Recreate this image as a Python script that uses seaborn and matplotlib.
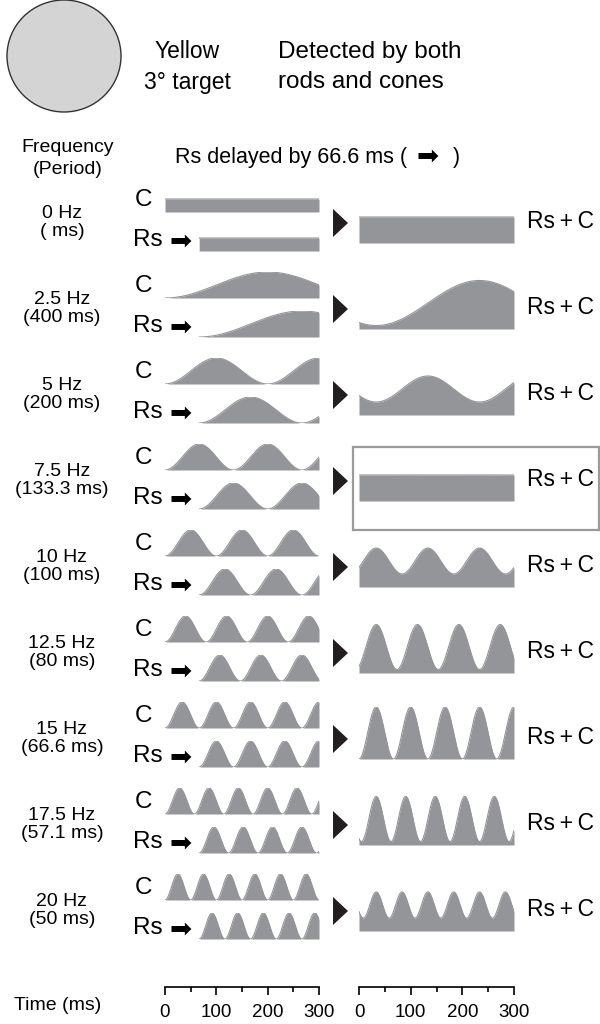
#!/usr/bin/env python3
import numpy as np
import matplotlib
matplotlib.use("Agg")
import matplotlib.pyplot as plt
import matplotlib.patches as mpatches
import matplotlib.transforms as mtransforms
import seaborn as sns

# Flicker frequencies shown, one row each
FREQS_HZ = [0, 2.5, 5, 7.5, 10, 12.5, 15, 17.5, 20]
PERIOD_LABELS = ["( ms)", "(400 ms)", "(200 ms)", "(133.3 ms)", "(100 ms)",
                 "(80 ms)", "(66.6 ms)", "(57.1 ms)", "(50 ms)"]
DELAY_MS = 66.6          # rod signal (Rs) lag behind cone signal (C)
WINDOW_MS = 300
TIME_TICKS = [0, 100, 200, 300]
TIME_MINOR = [50, 150, 250]
NULLED_ROW = 3           # 7.5 Hz: Rs and C cancel

GRAY = "#939598"
INK = "#231f20"

W, H = 600, 1024
PX_PER_UNIT = 13
ROW_STEP = 86


def wave(f, t):
    # mean level 1, full modulation when flickering
    m = 0.0 if f == 0 else 1.0
    return 1 - m * np.cos(2 * np.pi * f * t / 1000.0)


def draw_wave(ax, x, y, ymax):
    ax.fill_between(x, 0, y, color=GRAY, lw=0)
    sns.lineplot(x=x, y=y, ax=ax, color=GRAY, lw=0.8, estimator=None)
    ax.set_xlim(0, WINDOW_MS)
    ax.set_ylim(0, ymax)
    ax.axis("off")


sns.set_theme(style="white")
plt.rcParams["font.family"] = ["Liberation Sans", "DejaVu Sans"]

fig = plt.figure(figsize=(W / 100, H / 100), dpi=100)
# pixel coordinates, y downwards
PX = mtransforms.Affine2D().scale(1 / W, -1 / H).translate(0, 1) + fig.transFigure


def add_ax(x0, x1, base, height):
    return fig.add_axes([x0 / W, 1 - base / H, (x1 - x0) / W, height / H])


def txt(x, y, s, size, ha="left", **kw):
    return fig.text(x, y, s, transform=PX, ha=ha, va="center", fontsize=size,
                    color="black", **kw)


ARROW = "\u27a1"

# header
fig.patches.append(mpatches.Ellipse((64, 56), 114, 112, transform=PX,
                                    facecolor="#d4d4d4", edgecolor="#333333", lw=1))
txt(187, 52, "Yellow", 16.5, ha="center")
txt(187, 82, "3° target", 16.5, ha="center")
txt(278, 52, "Detected by both", 17.5)
txt(278, 82, "rods and cones", 17.5)
txt(68, 148, "Frequency", 14, ha="center")
txt(68, 170, "(Period)", 14, ha="center")

renderer = fig.canvas.get_renderer()
head = txt(175, 157, "Rs delayed by 66.6 ms (", 15.5)
x_end = head.get_window_extent(renderer).x1
txt(x_end + 10, 157, ARROW, 19, family=["DejaVu Sans"])
txt(x_end + 46, 157, ")", 15.5)

t = np.linspace(0, WINDOW_MS, 1501)
t_rs = t[t >= DELAY_MS]

for i, f in enumerate(FREQS_HZ):
    base = 212 + ROW_STEP * i
    c = wave(f, t)
    rs_full = wave(f, t - DELAY_MS)

    ax_c = add_ax(165, 319, base, 2 * PX_PER_UNIT)
    draw_wave(ax_c, t, c, 2)

    ax_r = add_ax(165, 319, base + 39, 2 * PX_PER_UNIT)
    draw_wave(ax_r, t_rs, wave(f, t_rs - DELAY_MS), 2)

    ax_s = add_ax(359, 514, base + 31, 4 * PX_PER_UNIT)
    draw_wave(ax_s, t, c + rs_full, 4)

    txt(62, base + 1, f"{f:g} Hz", 14, ha="center")
    txt(62, base + 20, PERIOD_LABELS[i], 14, ha="center")
    txt(135, base - 12, "C", 17.5)
    txt(133, base + 28, "Rs", 17.5)
    txt(181, base + 30, ARROW, 19, ha="center", family=["DejaVu Sans"])
    txt(527, base + 10, "Rs\u2009+\u2009C", 16.5)

    cy = base + 11
    fig.patches.append(mpatches.Polygon([(333, cy - 14), (348, cy), (333, cy + 14)],
                                        closed=True, transform=PX, facecolor=INK, lw=0))

    if i == NULLED_ROW:
        fig.patches.append(mpatches.Rectangle((353, base - 23), 246, 83, transform=PX,
                                              fill=False, edgecolor="#9a9a9a", lw=1.6))

# time scales
for x0, x1 in [(165, 319), (359, 514)]:
    ax_t = add_ax(x0, x1, 987, 1)
    ax_t.set_xlim(0, WINDOW_MS)
    ax_t.set_yticks([])
    for side in ["top", "left", "right"]:
        ax_t.spines[side].set_visible(False)
    ax_t.spines["bottom"].set_linewidth(1.2)
    ax_t.spines["bottom"].set_color("black")
    ax_t.set_xticks(TIME_TICKS)
    ax_t.set_xticks(TIME_MINOR, minor=True)
    ax_t.tick_params(axis="x", which="major", direction="out", length=6, width=1.2,
                     labelsize=13.5, pad=6, bottom=True, colors="black")
    ax_t.tick_params(axis="x", which="minor", direction="out", length=3.5, width=1.2,
                     bottom=True, colors="black")
    ax_t.patch.set_alpha(0)

txt(58, 1006, "Time (ms)", 14, ha="center")

fig.savefig("out.png", dpi=100)
